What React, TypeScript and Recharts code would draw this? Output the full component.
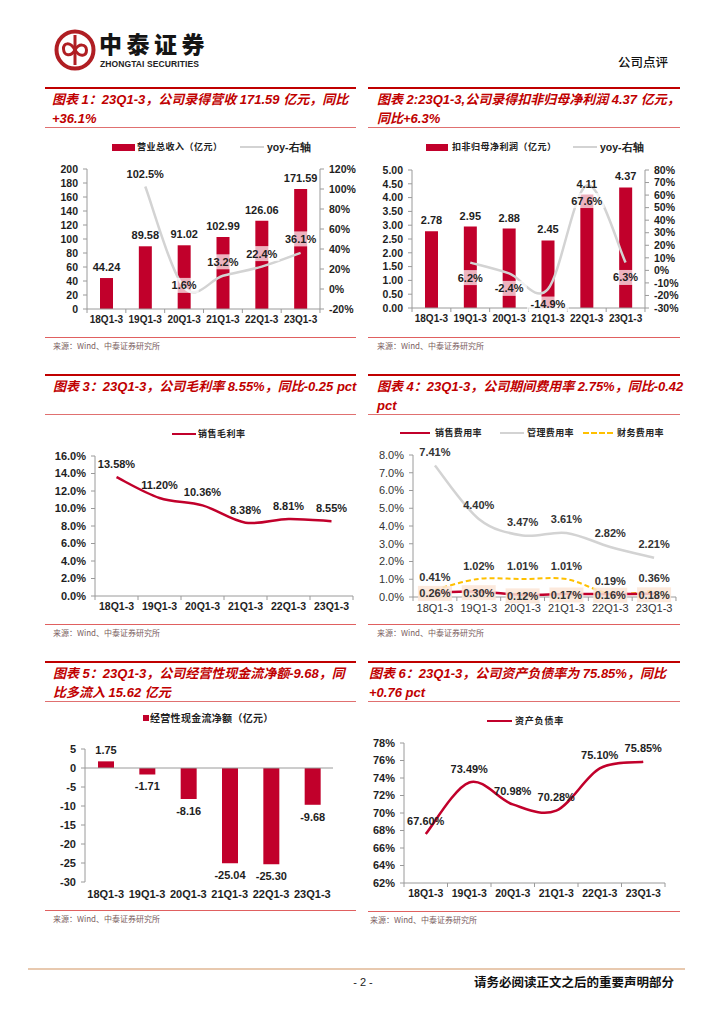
import React from 'react';
import { ComposedChart, Bar, Line, XAxis, YAxis, LabelList, ReferenceLine } from 'recharts';

// ---------- data ----------
const categories = ['18Q1-3', '19Q1-3', '20Q1-3', '21Q1-3', '22Q1-3', '23Q1-3'];

const revenue = [44.24, 89.58, 91.02, 102.99, 126.06, 171.59];
const revenueYoy = [null, 102.5, 1.6, 13.2, 22.4, 36.1];

const profit = [2.78, 2.95, 2.88, 2.45, 4.11, 4.37];
const profitYoy = [null, 6.2, -2.4, -14.9, 67.6, 6.3];

const grossMargin = [13.58, 11.2, 10.36, 8.38, 8.81, 8.55];

const sellingRate = [0.26, 0.3, 0.12, 0.17, 0.16, 0.18];
const adminRate = [7.41, 4.4, 3.47, 3.61, 2.82, 2.21];
const financeRate = [0.41, 1.02, 1.01, 1.01, 0.19, 0.36];

const cashFlow = [1.75, -1.71, -8.16, -25.04, -25.3, -9.68];

const debtRatio = [67.6, 73.49, 70.98, 70.28, 75.1, 75.85];

const revenueTicks = [0, 20, 40, 60, 80, 100, 120, 140, 160, 180, 200];
const revenueYoyTicks = [-20, 0, 20, 40, 60, 80, 100, 120];
const profitTicks = [0, 0.5, 1, 1.5, 2, 2.5, 3, 3.5, 4, 4.5, 5];
const profitYoyTicks = [-30, -20, -10, 0, 10, 20, 30, 40, 50, 60, 70, 80];
const marginTicks = [0, 2, 4, 6, 8, 10, 12, 14, 16];
const expenseTicks = [0, 1, 2, 3, 4, 5, 6, 7, 8];
const cashTicks = [-30, -25, -20, -15, -10, -5, 0, 5];
const debtTicks = [62, 64, 66, 68, 70, 72, 74, 76, 78];

// ---------- styles ----------
const FONT = '"Liberation Sans", Arial, Helvetica, sans-serif';
const CJK = '"Noto Sans CJK SC", "Noto Sans", sans-serif';
const TITLE_FONT = '"Liberation Sans", Arial, "Noto Sans CJK SC", sans-serif';
const RED = '#C1002B';
const GREY_LINE = '#D3D3D3';
const YELLOW = '#FFC000';
const AXIS = '#9A9A9A';
const INK = '#1E1E1E';
const TITLE_RED = '#C00000';
const LOGO = '#B01E23';

const rows = (cols: Record<string, (number | null)[]>) =>
  categories.map((name, i) => {
    const r: any = { name };
    Object.keys(cols).forEach((k) => {
      r[k] = cols[k][i];
    });
    return r;
  });

const data1 = rows({ v: revenue, yoy: revenueYoy });
const data2 = rows({ v: profit, yoy: profitYoy });
const data3 = rows({ gm: grossMargin });
const data4 = rows({ sell: sellingRate, admin: adminRate, fin: financeRate });
const data5 = rows({ cf: cashFlow });
const data6 = rows({ debt: debtRatio });

// Excel-like smoothed curve (Catmull-Rom as cubic Bezier)
function excelCurve(context: any) {
  let pts: [number, number][] = [];
  return {
    areaStart() {},
    areaEnd() {},
    lineStart() {
      pts = [];
    },
    lineEnd() {
      const n = pts.length;
      if (n === 0) return;
      context.moveTo(pts[0][0], pts[0][1]);
      for (let i = 0; i < n - 1; i++) {
        const p0 = pts[Math.max(i - 1, 0)];
        const p1 = pts[i];
        const p2 = pts[i + 1];
        const p3 = pts[Math.min(i + 2, n - 1)];
        context.bezierCurveTo(
          p1[0] + (p2[0] - p0[0]) / 6,
          p1[1] + (p2[1] - p0[1]) / 6,
          p2[0] - (p3[0] - p1[0]) / 6,
          p2[1] - (p3[1] - p1[1]) / 6,
          p2[0],
          p2[1]
        );
      }
    },
    point(x: number, y: number) {
      pts.push([+x, +y]);
    },
  };
}

const tickBold = { fontFamily: FONT, fontSize: 11, fontWeight: 700, fill: INK };
const tickBoldSm = { fontFamily: FONT, fontSize: 10.5, fontWeight: 700, fill: INK };
const tickBoldX = { fontFamily: FONT, fontSize: 10, fontWeight: 700, fill: INK };
const tickLight = { fontFamily: FONT, fontSize: 11, fontWeight: 400, fill: '#333' };
const labelStyle: React.CSSProperties = { fontFamily: FONT, fontSize: 11, fontWeight: 700, fill: INK };

const geom = (p: any) => {
  const vb = p.viewBox && typeof p.viewBox.x === 'number' ? p.viewBox : p;
  return { x: vb.x as number, y: vb.y as number, w: (vb.width as number) || 0, h: (vb.height as number) || 0 };
};

const barLabel = (fmt: (v: number) => string) => (p: any) => {
  const v = p.value;
  if (v === null || v === undefined) return null;
  const b = geom(p);
  const top = Math.min(b.y, b.y + b.h);
  const bottom = Math.max(b.y, b.y + b.h);
  const ty = v >= 0 ? top - 7 : bottom + 16;
  return (
    <text x={b.x + b.w / 2} y={ty} textAnchor="middle" style={labelStyle}>
      {fmt(v)}
    </text>
  );
};

const pointLabel =
  (fmt: (v: number) => string, dys: number | number[], bg?: { fill: string; opacity: number; w?: number }, color?: string) =>
  (p: any) => {
    const v = p.value;
    if (v === null || v === undefined) return null;
    const b = geom(p);
    if (typeof b.x !== 'number' || typeof b.y !== 'number' || isNaN(b.y)) return null;
    const dy = Array.isArray(dys) ? dys[p.index] ?? 0 : dys;
    const cy = b.y + dy;
    const txt = fmt(v);
    const w = bg?.w ?? txt.length * 6.3 + 4;
    return (
      <g>
        {bg && <rect x={b.x - w / 2} y={cy - 7.5} width={w} height={15} fill={bg.fill} fillOpacity={bg.opacity} />}
        <text x={b.x} y={cy + 4} textAnchor="middle" style={{ ...labelStyle, fill: color || INK }}>
          {txt}
        </text>
      </g>
    );
  };

const makeXTick = (half: number, marks: boolean, style: any) => (props: any) => {
  const { x, y, payload, index } = props;
  const last = index === categories.length - 1;
  return (
    <g>
      {marks && <line x1={x - half} x2={x - half} y1={y - 7} y2={y - 3} stroke={AXIS} />}
      {marks && last && <line x1={x + half} x2={x + half} y1={y - 7} y2={y - 3} stroke={AXIS} />}
      <text x={x} y={y} dy="0.71em" textAnchor="middle" style={style}>
        {payload.value}
      </text>
    </g>
  );
};

// ---------- page furniture ----------
const Abs = ({ left, top, children, style }: any) => (
  <div style={{ position: 'absolute', left, top, ...style }}>{children}</div>
);

const TitleBox = ({ left, top, width, textLeft, lines }: any) => (
  <>
    <div style={{ position: 'absolute', left, top: top - 1, width, height: 2, background: TITLE_RED }} />
    {lines.map((t: string, i: number) => (
      <div
        key={i}
        style={{
          position: 'absolute',
          left: textLeft,
          top: top + 12 + i * 19 - 9,
          height: 18,
          lineHeight: '18px',
          fontFamily: TITLE_FONT,
          fontSize: 13,
          fontWeight: 700,
          fontStyle: 'italic',
          color: TITLE_RED,
          whiteSpace: 'nowrap',
        }}
      >
        {t}
      </div>
    ))}
    <div style={{ position: 'absolute', left, top: top + 39, width, height: 1, background: '#E07070' }} />
  </>
);

const Source = ({ left, top, width, textLeft }: any) => (
  <>
    <div style={{ position: 'absolute', left, top, width, height: 1, background: '#E06060' }} />
    <div
      style={{
        position: 'absolute',
        left: textLeft,
        top: top + 3,
        height: 12,
        lineHeight: '12px',
        fontFamily: CJK,
        fontSize: 8,
        color: '#7A6060',
        whiteSpace: 'nowrap',
      }}
    >
      来源：Wind、中泰证券研究所
    </div>
  </>
);

const LegendText = ({ left, cy, text, size = 9, spacing = 0.5 }: any) => (
  <div
    style={{
      position: 'absolute',
      left,
      top: cy - 8,
      height: 16,
      lineHeight: '16px',
      fontFamily: CJK,
      fontSize: size,
      fontWeight: 700,
      color: '#222',
      letterSpacing: spacing,
      whiteSpace: 'nowrap',
    }}
  >
    {text}
  </div>
);

const LegendLatin = ({ left, cy, text }: any) => (
  <div
    style={{
      position: 'absolute',
      left,
      top: cy - 8,
      height: 16,
      lineHeight: '16px',
      fontFamily: FONT,
      fontSize: 10.5,
      fontWeight: 700,
      color: '#222',
      whiteSpace: 'nowrap',
    }}
  >
    {text}
  </div>
);

const Swatch = ({ left, cy, w, h, color, dashed }: any) =>
  dashed ? (
    <div style={{ position: 'absolute', left, top: cy - 1, width: w, height: 0, borderTop: `2px dashed ${color}` }} />
  ) : (
    <div style={{ position: 'absolute', left, top: cy - h / 2, width: w, height: h, background: color }} />
  );

const yAxisCommon = {
  axisLine: { stroke: AXIS },
  tickLine: { stroke: AXIS },
  tickSize: 4,
  tickMargin: 5,
  interval: 0 as const,
};

export default function App() {
  return (
    <div style={{ position: 'absolute', left: 0, top: 0, width: 724, height: 1024, background: '#fff', overflow: 'hidden' }}>
      {/* header */}
      <svg width={42} height={44} viewBox="0 0 42 44" style={{ position: 'absolute', left: 54, top: 28 }}>
        <circle cx={21} cy={22} r={18.5} fill="none" stroke={LOGO} strokeWidth={4} />
        <line x1={21} y1={7} x2={21} y2={37} stroke={LOGO} strokeWidth={3} />
        <path
          d="M21 22 C 16 13, 9 15, 9.5 21 C 10 28, 17 29, 21 22 C 25 15, 32 16, 32.5 22 C 32.5 28, 26 30, 21 22"
          fill="none"
          stroke={LOGO}
          strokeWidth={3}
        />
      </svg>
      <Abs
        left={99}
        top={31}
        style={{
          fontFamily: CJK,
          fontSize: 23,
          fontWeight: 900,
          color: '#151515',
          lineHeight: '24px',
          height: 24,
          whiteSpace: 'nowrap',
          letterSpacing: 4.5,
        }}
      >
        中泰证券
      </Abs>
      <Abs
        left={100}
        top={59}
        style={{
          fontFamily: FONT,
          fontSize: 8.5,
          fontWeight: 700,
          color: '#222',
          lineHeight: '10px',
          height: 10,
          whiteSpace: 'nowrap',
          letterSpacing: 0.1,
        }}
      >
        ZHONGTAI SECURITIES
      </Abs>
      <Abs
        left={618}
        top={54}
        style={{ fontFamily: CJK, fontSize: 12.5, fontWeight: 500, color: '#111', lineHeight: '16px', whiteSpace: 'nowrap' }}
      >
        公司点评
      </Abs>

      {/* ---------- Chart 1 ---------- */}
      <TitleBox left={45} top={88} width={311} textLeft={52} lines={['图表 1：23Q1-3，公司录得营收 171.59 亿元，同比', '+36.1%']} />
      <Swatch left={112} cy={147} w={23} h={7} color={RED} />
      <LegendText left={137} cy={147} text="营业总收入（亿元）" />
      <Swatch left={240} cy={147} w={24} h={2.5} color={GREY_LINE} />
      <LegendLatin left={267} cy={147} text="yoy-右轴" />
      <Abs left={40} top={140}>
        <ComposedChart width={330} height={200} data={data1} margin={{ top: 29, right: 0, left: 0, bottom: 0 }}>
          <XAxis
            dataKey="name"
            scale="band"
            height={31}
            interval={0}
            tickLine={false}
            tickSize={4}
            tickMargin={3}
            axisLine={{ stroke: AXIS }}
            tick={makeXTick(19.4, true, tickBoldX)}
          />
          <YAxis yAxisId="l" width={47} domain={[0, 200]} ticks={revenueTicks} tick={tickBoldSm} {...yAxisCommon} />
          <YAxis
            yAxisId="r"
            orientation="right"
            width={50}
            domain={[-20, 120]}
            ticks={revenueYoyTicks}
            tickFormatter={(v: number) => `${v}%`}
            tick={tickBoldSm}
            {...yAxisCommon}
          />
          <Bar yAxisId="l" dataKey="v" fill={RED} barSize={13} isAnimationActive={false}>
            <LabelList dataKey="v" content={barLabel((v) => v.toFixed(2))} />
          </Bar>
          <Line
            yAxisId="r"
            dataKey="yoy"
            stroke={GREY_LINE}
            strokeWidth={2.5}
            dot={false}
            type={excelCurve as any}
            isAnimationActive={false}
          >
            <LabelList
              dataKey="yoy"
              content={pointLabel((v) => `${v.toFixed(1)}%`, [0, -13, -2, -14, -13, -14], { fill: '#ffffff', opacity: 0.7 })}
            />
          </Line>
        </ComposedChart>
      </Abs>
      <Source left={45} top={337} width={311} textLeft={53} />

      {/* ---------- Chart 2 ---------- */}
      <TitleBox
        left={368}
        top={88}
        width={312}
        textLeft={377}
        lines={['图表 2:23Q1-3,公司录得扣非归母净利润 4.37 亿元，', '同比+6.3%']}
      />
      <Swatch left={426} cy={147} w={22} h={7} color={RED} />
      <LegendText left={452} cy={147} text="扣非归母净利润（亿元）" />
      <Swatch left={573} cy={147} w={24} h={2.5} color={GREY_LINE} />
      <LegendLatin left={600} cy={147} text="yoy-右轴" />
      <Abs left={365} top={140}>
        <ComposedChart width={330} height={200} data={data2} margin={{ top: 30, right: 0, left: 0, bottom: 0 }}>
          <XAxis
            dataKey="name"
            scale="band"
            height={32}
            interval={0}
            tickLine={false}
            tickSize={4}
            tickMargin={3}
            axisLine={{ stroke: AXIS }}
            tick={makeXTick(19.4, true, tickBoldX)}
          />
          <YAxis
            yAxisId="l"
            width={47}
            domain={[0, 5]}
            ticks={profitTicks}
            tickFormatter={(v: number) => v.toFixed(2)}
            tick={tickBoldSm}
            {...yAxisCommon}
          />
          <YAxis
            yAxisId="r"
            orientation="right"
            width={50}
            domain={[-30, 80]}
            ticks={profitYoyTicks}
            tickFormatter={(v: number) => `${v}%`}
            tick={tickBoldSm}
            {...yAxisCommon}
          />
          <Bar yAxisId="l" dataKey="v" fill={RED} barSize={13} isAnimationActive={false}>
            <LabelList dataKey="v" content={barLabel((v) => v.toFixed(2))} />
          </Bar>
          <Line
            yAxisId="r"
            dataKey="yoy"
            stroke={GREY_LINE}
            strokeWidth={2.5}
            dot={false}
            type={excelCurve as any}
            isAnimationActive={false}
          >
            <LabelList
              dataKey="yoy"
              content={pointLabel((v) => `${v.toFixed(1)}%`, 15, { fill: '#ffffff', opacity: 0.7 })}
            />
          </Line>
        </ComposedChart>
      </Abs>
      <Source left={368} top={337} width={312} textLeft={377} />

      {/* ---------- Chart 3 ---------- */}
      <TitleBox left={45} top={375} width={311} textLeft={53} lines={['图表 3：23Q1-3，公司毛利率 8.55%，同比-0.25 pct']} />
      <Swatch left={172} cy={434} w={24} h={2.5} color={RED} />
      <LegendText left={198} cy={434} text="销售毛利率" />
      <Abs left={40} top={420}>
        <ComposedChart width={320} height={200} data={data3} margin={{ top: 36, right: 7, left: 0, bottom: 0 }}>
          <XAxis
            dataKey="name"
            scale="band"
            height={24}
            interval={0}
            tickLine={false}
            tickSize={4}
            tickMargin={3}
            axisLine={{ stroke: AXIS }}
            tick={makeXTick(21.5, true, { ...tickBold, fontSize: 10.5 })}
          />
          <YAxis
            width={55}
            domain={[0, 16]}
            ticks={marginTicks}
            tickFormatter={(v: number) => `${v.toFixed(1)}%`}
            tick={tickBold}
            {...yAxisCommon}
          />
          <Line dataKey="gm" stroke={RED} strokeWidth={2.5} dot={false} type={excelCurve as any} isAnimationActive={false}>
            <LabelList dataKey="gm" content={pointLabel((v) => `${v.toFixed(2)}%`, -13)} />
          </Line>
        </ComposedChart>
      </Abs>
      <Source left={45} top={624} width={311} textLeft={53} />

      {/* ---------- Chart 4 ---------- */}
      <TitleBox
        left={368}
        top={375}
        width={312}
        textLeft={377}
        lines={['图表 4：23Q1-3，公司期间费用率 2.75%，同比-0.42', 'pct']}
      />
      <Swatch left={400} cy={433} w={30} h={2.5} color={RED} />
      <LegendText left={435} cy={433} text="销售费用率" size={9} spacing={0.4} />
      <Swatch left={500} cy={433} w={24} h={2} color={GREY_LINE} />
      <LegendText left={527} cy={433} text="管理费用率" size={9} spacing={0.4} />
      <Swatch left={583} cy={433} w={30} h={2} color={YELLOW} dashed />
      <LegendText left={617} cy={433} text="财务费用率" size={9} spacing={0.4} />
      <Abs left={365} top={420}>
        <ComposedChart width={320} height={200} data={data4} margin={{ top: 35, right: 9, left: 0, bottom: 0 }}>
          <XAxis
            dataKey="name"
            scale="band"
            height={23}
            interval={0}
            tickLine={false}
            tickSize={4}
            tickMargin={3}
            axisLine={{ stroke: AXIS }}
            tick={makeXTick(21.9, true, tickLight)}
          />
          <YAxis
            width={48}
            domain={[0, 8]}
            ticks={expenseTicks}
            tickFormatter={(v: number) => `${v.toFixed(1)}%`}
            tick={tickLight}
            {...yAxisCommon}
          />
          <Line dataKey="admin" stroke={GREY_LINE} strokeWidth={2.5} dot={false} type={excelCurve as any} isAnimationActive={false}>
            <LabelList dataKey="admin" content={pointLabel((v) => `${v.toFixed(2)}%`, -13.5, undefined, '#333')} />
          </Line>
          <Line
            dataKey="fin"
            stroke={YELLOW}
            strokeWidth={2}
            strokeDasharray="5 3"
            dot={false}
            type={excelCurve as any}
            isAnimationActive={false}
          >
            <LabelList dataKey="fin" content={pointLabel((v) => `${v.toFixed(2)}%`, -13, undefined, '#333')} />
          </Line>
          <Line dataKey="sell" stroke={RED} strokeWidth={2.5} dot={false} type={excelCurve as any} isAnimationActive={false}>
            <LabelList
              dataKey="sell"
              content={pointLabel((v) => `${v.toFixed(2)}%`, 1, { fill: '#FBE5D6', opacity: 0.85, w: 34 }, '#333')}
            />
          </Line>
        </ComposedChart>
      </Abs>
      <Source left={368} top={624} width={312} textLeft={377} />

      {/* ---------- Chart 5 ---------- */}
      <TitleBox
        left={45}
        top={662}
        width={311}
        textLeft={53}
        lines={['图表 5：23Q1-3，公司经营性现金流净额-9.68，同', '比多流入 15.62 亿元']}
      />
      <Swatch left={143} cy={718} w={6} h={6} color={RED} />
      <LegendText left={150} cy={718} text="经营性现金流净额（亿元）" size={10} spacing={0.3} />
      <Abs left={40} top={710}>
        <ComposedChart width={300} height={200} data={data5} margin={{ top: 39, right: 7, left: 0, bottom: 0 }}>
          <XAxis
            dataKey="name"
            scale="band"
            height={28}
            interval={0}
            tickLine={false}
            tickSize={4}
            tickMargin={4}
            axisLine={false}
            tick={makeXTick(20.7, false, tickBold)}
          />
          <YAxis width={45} domain={[-30, 5]} ticks={cashTicks} tick={tickBold} {...yAxisCommon} />
          <Bar dataKey="cf" fill={RED} barSize={16} isAnimationActive={false}>
            <LabelList dataKey="cf" content={barLabel((v) => v.toFixed(2))} />
          </Bar>
          <ReferenceLine y={0} stroke={AXIS} />
        </ComposedChart>
      </Abs>
      <Source left={45} top={910} width={311} textLeft={53} />

      {/* ---------- Chart 6 ---------- */}
      <TitleBox
        left={368}
        top={662}
        width={312}
        textLeft={369}
        lines={['图表 6：23Q1-3，公司资产负债率为 75.85%，同比', '+0.76 pct']}
      />
      <Swatch left={487} cy={721} w={25} h={2.5} color={RED} />
      <LegendText left={515} cy={721} text="资产负债率" size={9} spacing={0.8} />
      <Abs left={365} top={710}>
        <ComposedChart width={320} height={200} data={data6} margin={{ top: 33, right: 20, left: 0, bottom: 0 }}>
          <XAxis
            dataKey="name"
            scale="band"
            height={27}
            interval={0}
            tickLine={false}
            tickSize={4}
            tickMargin={3}
            axisLine={{ stroke: AXIS }}
            tick={makeXTick(21.75, true, { ...tickBold, fontSize: 10.5 })}
          />
          <YAxis
            width={39}
            domain={[62, 78]}
            ticks={debtTicks}
            tickFormatter={(v: number) => `${v}%`}
            tick={tickBold}
            {...yAxisCommon}
          />
          <Line dataKey="debt" stroke={RED} strokeWidth={2.5} dot={false} type={excelCurve as any} isAnimationActive={false}>
            <LabelList dataKey="debt" content={pointLabel((v) => `${v.toFixed(2)}%`, -13.5)} />
          </Line>
        </ComposedChart>
      </Abs>
      <Source left={368} top={911} width={312} textLeft={370} />

      {/* footer */}
      <div style={{ position: 'absolute', left: 28, top: 968, width: 657, height: 2, background: '#E8C9AF' }} />
      <Abs
        left={343}
        top={975}
        style={{ width: 40, textAlign: 'center', fontFamily: FONT, fontSize: 11, color: '#222', lineHeight: '14px' }}
      >
        - 2 -
      </Abs>
      <Abs
        left={474}
        top={974}
        style={{ fontFamily: CJK, fontSize: 12.5, fontWeight: 700, color: '#111', lineHeight: '16px', whiteSpace: 'nowrap' }}
      >
        请务必阅读正文之后的重要声明部分
      </Abs>
    </div>
  );
}
